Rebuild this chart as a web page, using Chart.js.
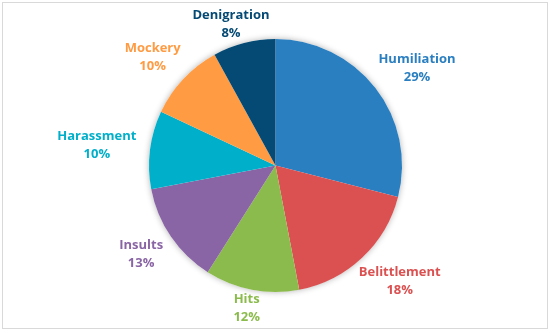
<!DOCTYPE html>
<html>
<head>
<meta charset="utf-8">
<script src="https://cdn.jsdelivr.net/npm/chart.js@4"></script>
<style>
  html, body { margin: 0; padding: 0; background: #fff; }
  #wrap { position: relative; width: 550px; height: 333px; }
  #frame { position: absolute; left: 2px; top: 2px; width: 544px; height: 325px; border: 1px solid #d9d9d9; pointer-events: none; }
</style>
</head>
<body>
<div id="wrap">
  <canvas id="chart" width="550" height="333"></canvas>
  <div id="frame"></div>
</div>
<script>
const labels = ["Humiliation", "Belittlement", "Hits", "Insults", "Harassment", "Mockery", "Denigration"]
const shares = [29, 18, 12, 13, 10, 10, 8]
const colors = ["#2a7fc1", "#db5050", "#8cbb4d", "#8a65a5", "#00afc9", "#ff9b42", "#054a74"]

const labelFont = "bold 13px 'Open Sans'"

// soft shadow under the whole pie
const pieShadow = {
  id: "pieShadow",
  beforeDatasetsDraw(chart) {
    const arc = chart.getDatasetMeta(0).data[0]
    if (!arc) return
    const ctx = chart.ctx
    ctx.save()
    ctx.shadowColor = "rgba(0,0,0,0.3)"
    ctx.shadowBlur = 6
    ctx.fillStyle = "#fff"
    ctx.beginPath()
    ctx.arc(arc.x, arc.y, arc.outerRadius, 0, Math.PI * 2)
    ctx.fill()
    ctx.restore()
  },
}

// category + percent labels outside each slice
const outsideLabels = {
  id: "outsideLabels",
  afterDatasetsDraw(chart) {
    const ctx = chart.ctx
    const meta = chart.getDatasetMeta(0)
    const total = shares.reduce((a, b) => a + b, 0)
    ctx.save()
    ctx.font = labelFont
    ctx.textAlign = "center"
    ctx.textBaseline = "middle"
    meta.data.forEach((arc, i) => {
      const mid = (arc.startAngle + arc.endAngle) / 2
      const cos = Math.cos(mid)
      const sin = Math.sin(mid)
      const pct = Math.round(shares[i] / total * 100) + "%"
      const w = Math.max(ctx.measureText(labels[i]).width, ctx.measureText(pct).width)
      const h = 36
      const gap = 14
      const cx = arc.x + cos * (arc.outerRadius + gap) + cos * w / 2
      let cy = arc.y + sin * (arc.outerRadius + gap) + sin * h / 2
      // keep labels inside the frame
      cy = Math.max(cy, 6 + h / 2)
      cy = Math.min(cy, chart.height - 7 - h / 2)
      ctx.fillStyle = colors[i]
      ctx.fillText(labels[i], cx, cy - 9)
      ctx.fillText(pct, cx, cy + 9)
    })
    ctx.restore()
  },
}

new Chart(document.getElementById("chart"), {
  type: "pie",
  data: {
    labels: labels,
    datasets: [
      {
        data: shares,
        backgroundColor: colors,
        borderWidth: 0,
      },
    ],
  },
  options: {
    responsive: false,
    animation: false,
    layout: { padding: { top: 39, bottom: 41, left: 149, right: 148 } },
    plugins: {
      legend: { display: false },
      tooltip: { enabled: false },
    },
  },
  plugins: [pieShadow, outsideLabels],
})
</script>
</body>
</html>
